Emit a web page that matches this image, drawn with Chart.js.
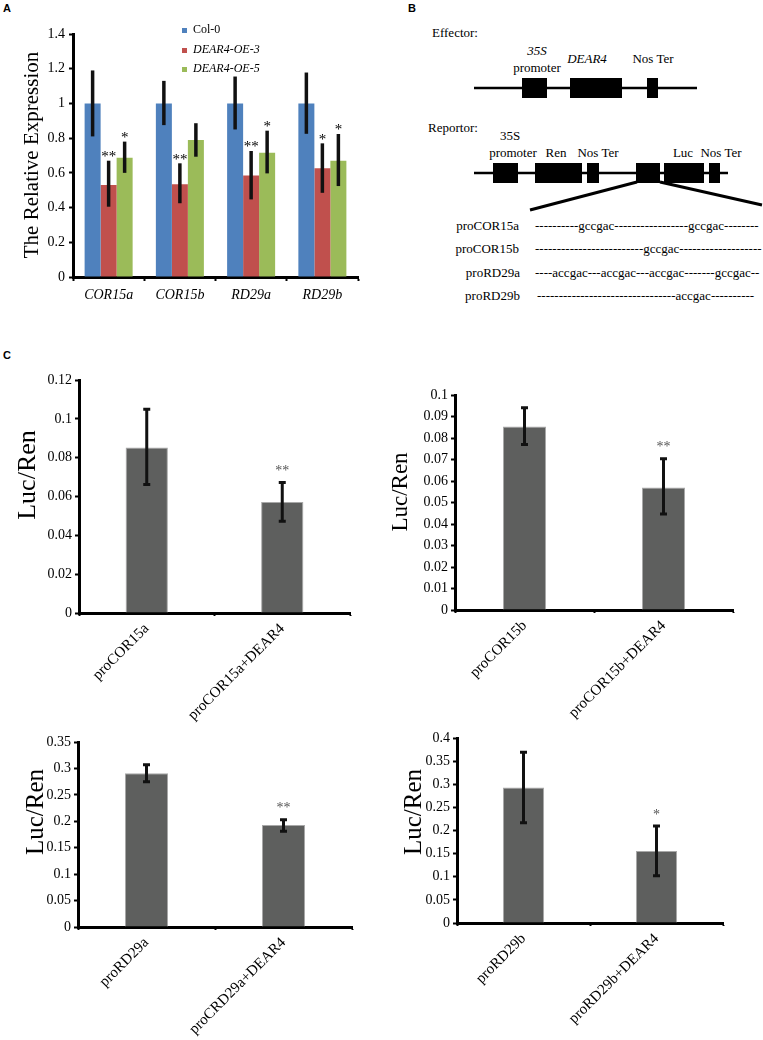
<!DOCTYPE html>
<html>
<head>
<meta charset="utf-8">
<script src="https://cdn.jsdelivr.net/npm/chart.js@4.4.1/dist/chart.umd.min.js"></script>
<style>
  body { margin: 0; background: #fff; }
  #page { position: relative; width: 763px; height: 1040px; overflow: hidden; font-family: "Liberation Serif", "Times New Roman", serif; }
  canvas { position: absolute; }
  .tag { position: absolute; font: bold 11px/11px "Liberation Sans", Arial, sans-serif; color: #000; }
  .legend { position: absolute; left: 182px; font-family: "Liberation Serif", serif; font-size: 12px; line-height: 14px; }
  .legend div { height: 14px; margin-bottom: 5.5px; white-space: nowrap; }
  .legend span { display: inline-block; width: 5px; height: 5px; margin-right: 6px; vertical-align: 0; }
  #diagram { position: absolute; left: 380px; top: 0; }
</style>
</head>
<body>
<div id="page">
  <div class="tag" style="left:3px;top:3px">A</div>
  <div class="tag" style="left:408px;top:3px">B</div>
  <div class="tag" style="left:3px;top:350px">C</div>

  <canvas id="chart-a" width="380" height="320" style="left:0;top:0"></canvas>
  <div class="legend" style="top:22px">
    <div><span style="background:#4f81bd"></span>Col-0</div>
    <div><span style="background:#c0504d"></span><i>DEAR4-OE-3</i></div>
    <div><span style="background:#9bbb59"></span><i>DEAR4-OE-5</i></div>
  </div>

  <svg id="diagram" width="383" height="320" font-family="Liberation Serif, Times New Roman, serif" font-size="13" fill="#000">
    <text x="52" y="32" dominant-baseline="central">Effector:</text>
    <text x="157" y="50" text-anchor="middle" dominant-baseline="central" font-style="italic">35S</text>
    <text x="157" y="67" text-anchor="middle" dominant-baseline="central">promoter</text>
    <text x="207" y="58" text-anchor="middle" dominant-baseline="central" font-style="italic">DEAR4</text>
    <text x="273" y="58" text-anchor="middle" dominant-baseline="central">Nos Ter</text>
    <line x1="94" y1="88" x2="317" y2="88" stroke="#000" stroke-width="2.5"/>
    <rect x="142" y="78" width="25" height="20" fill="#000"/>
    <rect x="190" y="78" width="52" height="20" fill="#000"/>
    <rect x="267" y="78" width="11" height="20" fill="#000"/>

    <text x="48" y="127" dominant-baseline="central">Reportor:</text>
    <text x="130" y="135" text-anchor="middle" dominant-baseline="central">35S</text>
    <text x="133" y="152" text-anchor="middle" dominant-baseline="central">promoter</text>
    <text x="176" y="152" text-anchor="middle" dominant-baseline="central">Ren</text>
    <text x="218" y="152" text-anchor="middle" dominant-baseline="central">Nos Ter</text>
    <text x="303" y="152" text-anchor="middle" dominant-baseline="central">Luc</text>
    <text x="341" y="152" text-anchor="middle" dominant-baseline="central">Nos Ter</text>
    <line x1="94" y1="173" x2="348" y2="173" stroke="#000" stroke-width="2.5"/>
    <rect x="113" y="163" width="25" height="20" fill="#000"/>
    <rect x="155" y="163" width="47" height="20" fill="#000"/>
    <rect x="207" y="163" width="12" height="20" fill="#000"/>
    <rect x="256" y="163" width="24" height="20" fill="#000"/>
    <rect x="284" y="163" width="40" height="20" fill="#000"/>
    <rect x="329" y="163" width="11" height="20" fill="#000"/>
    <line x1="257" y1="182" x2="150" y2="210" stroke="#000" stroke-width="3"/>
    <line x1="280" y1="182" x2="382" y2="205" stroke="#000" stroke-width="3"/>

    <text x="139" y="225" text-anchor="end" dominant-baseline="central">proCOR15a</text>
    <text x="139" y="248" text-anchor="end" dominant-baseline="central">proCOR15b</text>
    <text x="140" y="272" text-anchor="end" dominant-baseline="central">proRD29a</text>
    <text x="140" y="295" text-anchor="end" dominant-baseline="central">proRD29b</text>
    <text x="155" y="225" dominant-baseline="central">----------gccgac-----------------gccgac--------</text>
    <text x="155" y="248" dominant-baseline="central">-------------------------gccgac-------------------</text>
    <text x="155" y="272" dominant-baseline="central">----accgac---accgac---accgac-------gccgac--</text>
    <text x="157" y="295" dominant-baseline="central">--------------------------------accgac----------</text>
  </svg>

  <canvas id="chart-c1" width="380" height="390" style="left:0;top:340px"></canvas>
  <canvas id="chart-c2" width="383" height="390" style="left:380px;top:340px"></canvas>
  <canvas id="chart-c3" width="380" height="340" style="left:0;top:700px"></canvas>
  <canvas id="chart-c4" width="383" height="340" style="left:380px;top:700px"></canvas>
</div>

<script>
// Panel A: relative expression
const genes = ["COR15a", "COR15b", "RD29a", "RD29b"];
const col0 = [1, 1, 1, 1];
const col0Low = [0.81, 0.875, 0.85, 0.825];
const col0High = [1.19, 1.13, 1.155, 1.178];
const oe3 = [0.53, 0.535, 0.585, 0.626];
const oe3Low = [0.405, 0.425, 0.447, 0.485];
const oe3High = [0.67, 0.655, 0.726, 0.77];
const oe3Stars = ["**", "**", "**", "*"];
const oe5 = [0.687, 0.79, 0.716, 0.67];
const oe5Low = [0.60, 0.693, 0.597, 0.524];
const oe5High = [0.78, 0.886, 0.843, 0.824];
const oe5Stars = ["*", "", "*", "*"];

// Panel C: Luc/Ren ratios
const c1Labels = ["proCOR15a", "proCOR15a+DEAR4"];
const c1Values = [0.0852, 0.0572];
const c1Low = [0.0662, 0.0473];
const c1High = [0.105, 0.0672];
const c1Stars = ["", "**"];

const c2Labels = ["proCOR15b", "proCOR15b+DEAR4"];
const c2Values = [0.0853, 0.057];
const c2Low = [0.077, 0.0447];
const c2High = [0.0941, 0.0704];
const c2Stars = ["", "**"];

const c3Labels = ["proRD29a", "proCRD29a+DEAR4"];
const c3Values = [0.2907, 0.193];
const c3Low = [0.275, 0.181];
const c3High = [0.307, 0.203];
const c3Stars = ["", "**"];

const c4Labels = ["proRD29b", "proRD29b+DEAR4"];
const c4Values = [0.293, 0.1556];
const c4Low = [0.217, 0.102];
const c4High = [0.369, 0.21];
const c4Stars = ["", "*"];

const serif = "'Liberation Serif', 'Times New Roman', serif";

// Error bars + significance stars, drawn from the y scale
const errorBars = {
  id: "errorBars",
  afterDatasetsDraw(chart, args, opts) {
    const ctx = chart.ctx;
    const y = chart.scales.y;
    chart.data.datasets.forEach((ds, i) => {
      chart.getDatasetMeta(i).data.forEach((bar, j) => {
        const top = y.getPixelForValue(ds.high[j]);
        const bottom = y.getPixelForValue(ds.low[j]);
        ctx.save();
        ctx.strokeStyle = "#111";
        ctx.lineWidth = opts.width;
        ctx.beginPath();
        ctx.moveTo(bar.x, top);
        ctx.lineTo(bar.x, bottom);
        if (opts.cap) {
          ctx.moveTo(bar.x - opts.cap, top);
          ctx.lineTo(bar.x + opts.cap, top);
          ctx.moveTo(bar.x - opts.cap, bottom);
          ctx.lineTo(bar.x + opts.cap, bottom);
        }
        ctx.stroke();
        if (ds.stars && ds.stars[j]) {
          ctx.fillStyle = opts.starColor;
          ctx.font = opts.starSize + "px " + serif;
          ctx.textAlign = "center";
          ctx.textBaseline = "alphabetic";
          ctx.fillText(ds.stars[j], bar.x, top - opts.starGap + opts.starSize * 0.55);
        }
        ctx.restore();
      });
    });
  }
};

// Rotated y axis title at a fixed spot
const yTitle = {
  id: "yTitle",
  afterDraw(chart, args, opts) {
    const ctx = chart.ctx;
    ctx.save();
    ctx.translate(opts.x, opts.y);
    ctx.rotate(-Math.PI / 2);
    ctx.font = opts.size + "px " + serif;
    ctx.fillStyle = "#000";
    ctx.textAlign = "center";
    ctx.textBaseline = "middle";
    ctx.fillText(opts.text, 0, 0);
    ctx.restore();
  }
};

const axisGrid = (len) => ({ drawOnChartArea: false, drawTicks: true, tickLength: len, color: "#000", tickWidth: 2 });
const axisBorder = { color: "#000", width: 3 };
const trimNum = (v) => String(+v.toFixed(4));

new Chart(document.getElementById("chart-a"), {
  type: "bar",
  data: {
    labels: genes,
    datasets: [
      { label: "Col-0", data: col0, low: col0Low, high: col0High, backgroundColor: "#4f81bd" },
      { label: "DEAR4-OE-3", data: oe3, low: oe3Low, high: oe3High, stars: oe3Stars, backgroundColor: "#c0504d" },
      { label: "DEAR4-OE-5", data: oe5, low: oe5Low, high: oe5High, stars: oe5Stars, backgroundColor: "#9bbb59" }
    ]
  },
  options: {
    responsive: false,
    animation: false,
    datasets: { bar: { barPercentage: 1, categoryPercentage: 0.674 } },
    layout: { padding: { top: 34, right: 22, left: 0, bottom: 0 } },
    plugins: {
      legend: { display: false },
      tooltip: { enabled: false },
      errorBars: { width: 3.5, cap: 0, starColor: "#000", starSize: 15, starGap: 8 },
      yTitle: { text: "The Relative Expression", x: 32, y: 155, size: 21 }
    },
    scales: {
      x: {
        afterFit: (s) => { s.height = 43; },
        grid: axisGrid(4),
        border: axisBorder,
        ticks: { color: "#000", padding: 6, font: { family: serif, size: 14, style: "italic" } }
      },
      y: {
        min: 0,
        max: 1.4,
        afterFit: (s) => { s.width = 73; },
        grid: axisGrid(4),
        border: axisBorder,
        ticks: { stepSize: 0.2, color: "#000", padding: 4, font: { family: serif, size: 14 }, callback: trimNum }
      }
    }
  },
  plugins: [errorBars, yTitle]
});

function lucChart(id, labels, values, low, high, stars, box) {
  return new Chart(document.getElementById(id), {
    type: "bar",
    data: {
      labels: labels,
      datasets: [{
        data: values, low: low, high: high, stars: stars,
        backgroundColor: "#5e5f5e", borderColor: "#a8a8a8", borderWidth: 1,
        barPercentage: box.bar, categoryPercentage: 1
      }]
    },
    options: {
      responsive: false,
      animation: false,
      layout: { padding: { top: box.top, right: box.right, left: 0, bottom: 0 } },
      plugins: {
        legend: { display: false },
        tooltip: { enabled: false },
        errorBars: { width: 3, cap: 3.5, starColor: "#555", starSize: 14, starGap: 15 },
        yTitle: { text: "Luc/Ren", x: box.tx, y: box.ty, size: box.ts }
      },
      scales: {
        x: {
          afterFit: (s) => { s.height = box.xh; },
          grid: axisGrid(3),
          border: axisBorder,
          ticks: { color: "#000", padding: 4, minRotation: 45, maxRotation: 45, font: { family: serif, size: 15 } }
        },
        y: {
          min: 0,
          max: box.max,
          afterFit: (s) => { s.width = box.yw; },
          grid: axisGrid(4),
          border: axisBorder,
          ticks: { stepSize: box.step, color: "#000", padding: 3, font: { family: serif, size: 14 }, callback: trimNum }
        }
      }
    },
    plugins: [errorBars, yTitle]
  });
}

lucChart("chart-c1", c1Labels, c1Values, c1Low, c1High, c1Stars,
  { max: 0.12, step: 0.02, top: 40, right: 30, yw: 79, xh: 117, bar: 0.312, tx: 28, ty: 135, ts: 26 });
lucChart("chart-c2", c2Labels, c2Values, c2Low, c2High, c2Stars,
  { max: 0.1, step: 0.01, top: 55, right: 30, yw: 75, xh: 120, bar: 0.31, tx: 21, ty: 152, ts: 23 });
lucChart("chart-c3", c3Labels, c3Values, c3Low, c3High, c3Stars,
  { max: 0.35, step: 0.05, top: 42, right: 28, yw: 78, xh: 113, bar: 0.314, tx: 36, ty: 112, ts: 25 });
lucChart("chart-c4", c4Labels, c4Values, c4Low, c4High, c4Stars,
  { max: 0.4, step: 0.05, top: 38, right: 40, yw: 77, xh: 117, bar: 0.31, tx: 34, ty: 112, ts: 25 });
</script>
</body>
</html>
